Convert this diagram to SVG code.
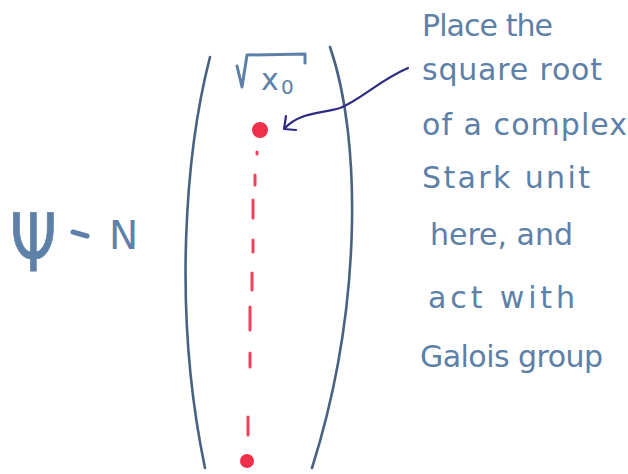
<svg xmlns="http://www.w3.org/2000/svg" width="628" height="474" viewBox="0 0 628 474">
<style>
.hw{font-family:"DejaVu Sans","Liberation Sans",sans-serif;fill:#5d80a8}
.note{font-size:30px}
.lens{fill:none;stroke:#4a6282;stroke-width:2.6;stroke-linecap:round}
.red{fill:#f0304a}
.dash{stroke:#f0405a;stroke-width:3;stroke-linecap:round;fill:none}
.ink{fill:none;stroke:#5d80a8;stroke-width:3;stroke-linecap:round;stroke-linejoin:round}
</style>
<rect width="628" height="474" fill="#ffffff"/>
<g id="lens">
<path class="lens" d="M210,57 C186,150 172,310 205,468"/>
<path class="lens" d="M330,47 C362,140 362,310 312,468"/>
</g>
<g id="root-label">
<path class="ink" d="M237,66 L242,87 L247,55 L305,54 L305,63"/>
<text class="hw" x="261" y="90" style="font-size:30px">x</text>
<text class="hw" x="281" y="94" style="font-size:20px">0</text>
</g>
<g id="points">
<circle class="red" cx="260" cy="130" r="8"/>
<circle class="red" cx="247" cy="461" r="7"/>
<path class="dash" d="M257,152 L257,154 M255,175 L255,185 M253,200 L253,218 M253,240 L253,252 M252,273 L252,290 M250,307 L250,330 M250,353 L250,367 M248,417 L248,435"/>
</g>
<g id="psi-eq">
<text class="hw" transform="translate(10,271) scale(0.78,1.05)" style="font-size:76px;stroke:#5d80a8;stroke-width:0.8">Ψ</text>
<path class="ink" d="M73,232 L87,236" style="stroke-width:5"/>
<text class="hw" x="109" y="249" style="font-size:39px">N</text>
</g>
<g id="connectors">
<path d="M408,68 C380,80 360,100 340,108 C320,114 300,112 285,128" fill="none" stroke="#2e2a80" stroke-width="2.2" stroke-linecap="round"/>
<path d="M286,116 L284,129 L296,130" fill="none" stroke="#2e2a80" stroke-width="2.2" stroke-linecap="round" stroke-linejoin="round"/>
</g>
<g id="note">
<text class="hw note" x="422" y="36" textLength="131" lengthAdjust="spacing">Place the</text>
<text class="hw note" x="422" y="80" textLength="180" lengthAdjust="spacing">square root</text>
<text class="hw note" x="422" y="135" textLength="205" lengthAdjust="spacing">of a complex</text>
<text class="hw note" x="422" y="188" textLength="168" lengthAdjust="spacing">Stark unit</text>
<text class="hw note" x="430" y="245" textLength="143" lengthAdjust="spacing">here, and</text>
<text class="hw note" x="428" y="308" textLength="147" lengthAdjust="spacing">act with</text>
<text class="hw note" x="420" y="367" textLength="183" lengthAdjust="spacing">Galois group</text>
</g>
</svg>
